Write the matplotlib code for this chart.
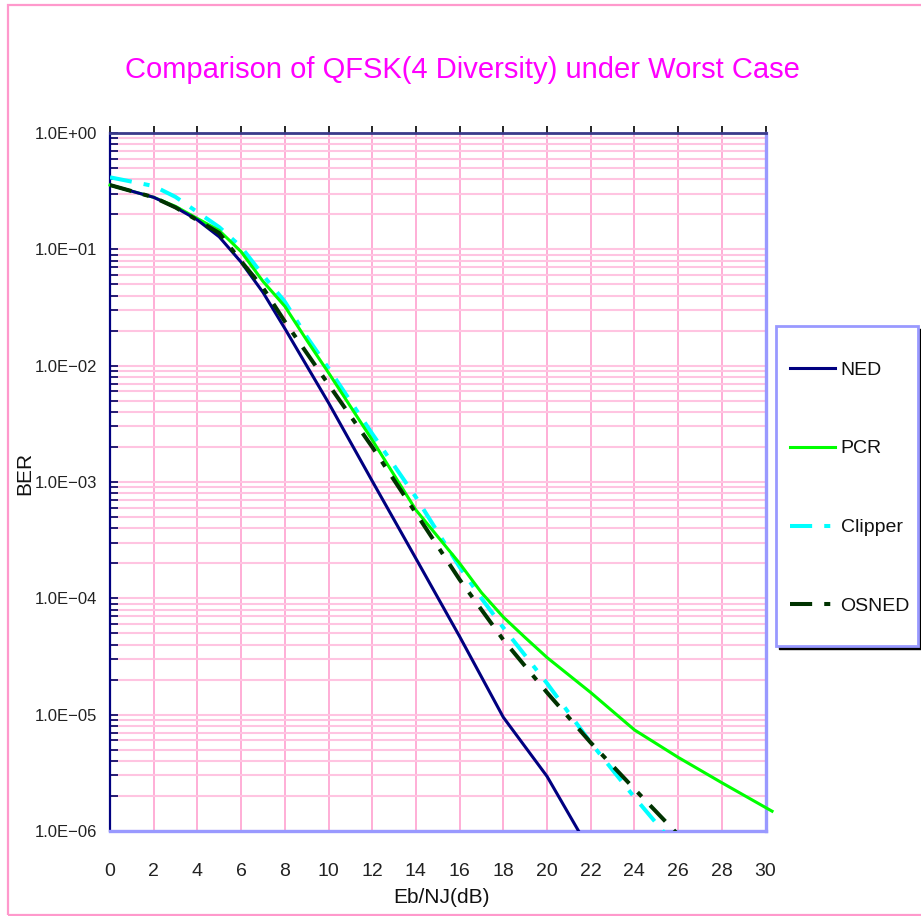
import matplotlib
matplotlib.use('Agg')
import matplotlib.pyplot as plt
from matplotlib import rcParams
from matplotlib.patches import Rectangle
from matplotlib.ticker import FixedLocator, LogLocator, NullFormatter

rcParams['font.family'] = ['Liberation Sans', 'DejaVu Sans']

# Eb/NJ (dB) and BER for each receiver
ebnj_ned = [0, 2, 3, 4, 5, 6, 7, 8, 9, 10, 12, 14, 16, 18, 20, 22]
ber_ned = [0.357, 0.28, 0.229, 0.179, 0.128, 0.0776, 0.0427, 0.0209, 0.0100,
           0.0048, 0.00102, 2.2e-4, 4.7e-5, 9.5e-6, 2.95e-6, 6.6e-7]

ebnj_pcr = [0, 2, 3, 4, 5, 6, 7, 8, 9, 10, 12, 14, 16, 17, 18, 19, 20, 22,
            24, 26, 28, 30.3]
ber_pcr = [0.357, 0.28, 0.234, 0.184, 0.145, 0.0955, 0.0531, 0.0324, 0.0166,
           0.0087, 0.0023, 5.75e-4, 2.0e-4, 1.12e-4, 6.9e-5, 4.6e-5, 3.1e-5,
           1.55e-5, 7.4e-6, 4.3e-6, 2.6e-6, 1.48e-6]

ebnj_clip = [0, 2, 3, 4, 5, 6, 7, 8, 9, 10, 12, 14, 16, 17, 18, 20, 22, 24, 26]
ber_clip = [0.416, 0.35, 0.282, 0.209, 0.155, 0.105, 0.060, 0.0355, 0.0178,
            0.0095, 0.0026, 7.4e-4, 1.86e-4, 1.0e-4, 5.6e-5, 1.86e-5, 5.75e-6,
            1.95e-6, 7.0e-7]

ebnj_osned = [0, 2, 3, 4, 5, 6, 7, 8, 10, 12, 14, 16, 18, 20, 22, 24, 26]
ber_osned = [0.357, 0.28, 0.229, 0.178, 0.138, 0.079, 0.0468, 0.024, 0.0069,
             0.0020, 5.4e-4, 1.45e-4, 4.4e-5, 1.55e-5, 5.75e-6, 2.3e-6, 9.3e-7]

x_ticks = list(range(0, 31, 2))
y_ticks = [1e0, 1e-1, 1e-2, 1e-3, 1e-4, 1e-5, 1e-6]
y_tick_labels = ['1.0E+00', '1.0E\u221201', '1.0E\u221202', '1.0E\u221203',
                 '1.0E\u221204', '1.0E\u221205', '1.0E\u221206']

W, H = 921, 916
fig = plt.figure(figsize=(W / 100, H / 100), dpi=100)
ax = fig.add_axes([110 / W, 1 - 831 / H, 655.5 / W, 698 / H])

# pink frame around the whole figure
fig.patches.append(Rectangle((8 / W, 1.5 / H), 1.0, 1 - 6 / H,
                             transform=fig.transFigure, fill=False,
                             edgecolor='#FF99CC', linewidth=1.6))

dash_pat = (5.5, 3, 1.5, 3)
ax.plot(ebnj_ned, ber_ned, color='#000080', lw=2.2, label='NED', zorder=5)
ax.plot(ebnj_pcr, ber_pcr, color='#00FF00', lw=2.2, label='PCR', zorder=4,
        clip_on=False)
ax.plot(ebnj_clip, ber_clip, color='#00FFFF', lw=2.9, dashes=dash_pat,
        label='Clipper', zorder=3)
ax.plot(ebnj_osned, ber_osned, color='#003300', lw=2.9, dashes=dash_pat,
        label='OSNED', zorder=6)

ax.set_yscale('log')
ax.set_xlim(0, 30)
ax.set_ylim(1e-6, 1)

ax.xaxis.set_major_locator(FixedLocator(x_ticks))
ax.set_xticklabels([str(v) for v in x_ticks], fontsize=14, color='#222222')
ax.yaxis.set_major_locator(FixedLocator(y_ticks))
ax.set_yticklabels(y_tick_labels, fontsize=12, color='#222222')
ax.yaxis.set_minor_locator(LogLocator(base=10, subs=range(2, 10), numticks=20))
ax.yaxis.set_minor_formatter(NullFormatter())

ax.grid(axis='x', which='major', color='#FF99CC', lw=1.1, zorder=0)
ax.grid(axis='y', which='both', color='#FFC4E1', lw=1.5, zorder=0)
ax.set_axisbelow(True)

ax.tick_params(axis='x', which='major', top=True, bottom=False,
               direction='out', length=5, width=1.2, color='black', pad=18)
ax.tick_params(axis='y', which='both', left=True, right=False,
               direction='in', length=6, width=1.2, color='#000060', pad=9)

ax.spines['left'].set_color('#000080')
ax.spines['left'].set_linewidth(1.6)
ax.spines['top'].set_color('#3a3a8a')
ax.spines['top'].set_linewidth(2.0)
ax.spines['bottom'].set_color('#9999FF')
ax.spines['bottom'].set_linewidth(2.4)
ax.spines['right'].set_color('#9999FF')
ax.spines['right'].set_linewidth(2.4)

ax.set_xlabel('Eb/NJ(dB)', fontsize=15, color='#111111')
ax.xaxis.set_label_coords(0.505, -0.0946)
ax.xaxis.label.set_va('center')
ax.set_ylabel('BER', fontsize=15, color='#111111')
ax.yaxis.set_label_coords(-0.13, 0.512)
ax.yaxis.label.set_va('center')

fig.text(462 / W, 1 - 70 / H,
         'Comparison of QFSK(4 Diversity) under Worst Case',
         ha='center', va='center', fontsize=21, color='#FF00FF')

# legend box with a black drop shadow
box_x0, box_y0, box_x1, box_y1 = 776, 326, 918, 646
fig.patches.append(Rectangle(((box_x0 + 3) / W, 1 - (box_y1 + 3) / H),
                             (box_x1 - box_x0) / W, (box_y1 - box_y0) / H,
                             transform=fig.transFigure, facecolor='black',
                             edgecolor='black', lw=1, zorder=1))
fig.patches.append(Rectangle((box_x0 / W, 1 - box_y1 / H),
                             (box_x1 - box_x0) / W, (box_y1 - box_y0) / H,
                             transform=fig.transFigure, facecolor='white',
                             edgecolor='#9999FF', lw=2.0, zorder=2))

handles, labels = ax.get_legend_handles_labels()
leg = fig.legend(handles, labels, loc='upper left',
                 bbox_to_anchor=(790 / W, 1 - 361 / H),
                 bbox_transform=fig.transFigure, fontsize=14, frameon=False,
                 handlelength=2.3, handletextpad=0.3, labelspacing=3.15,
                 borderpad=0, borderaxespad=0)
leg.set_zorder(10)
for t in leg.get_texts():
    t.set_color('#111111')

fig.savefig('out.png', dpi=100, facecolor='white')
